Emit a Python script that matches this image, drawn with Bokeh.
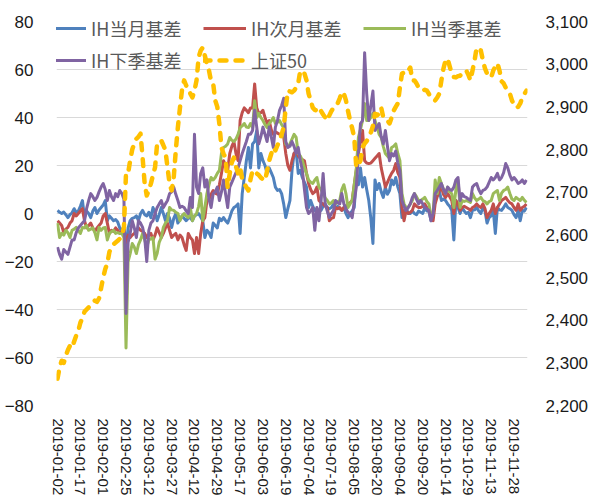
import pandas as pd
from bokeh.plotting import figure
from bokeh.models import (Range1d, LinearAxis, FixedTicker, NumeralTickFormatter,
                          Legend, LegendItem)
from bokeh.embed import file_html
from bokeh.resources import INLINE

# ---------------- data ----------------
holidays = ["2019-02-04", "2019-02-05", "2019-02-06", "2019-02-07", "2019-02-08",
            "2019-04-05", "2019-05-01", "2019-05-02", "2019-05-03", "2019-06-07",
            "2019-09-13", "2019-10-01", "2019-10-02", "2019-10-03", "2019-10-04",
            "2019-10-07"]
dates = [d.strftime("%Y-%m-%d") for d in pd.bdate_range("2019-01-02", "2019-12-06")
         if d.strftime("%Y-%m-%d") not in holidays]

tick_labels = ["2019-01-02", "2019-01-17", "2019-02-01", "2019-02-25", "2019-03-12",
               "2019-03-27", "2019-04-12", "2019-04-29", "2019-05-17", "2019-06-03",
               "2019-06-19", "2019-07-04", "2019-07-19", "2019-08-05", "2019-08-20",
               "2019-09-04", "2019-09-20", "2019-10-14", "2019-10-29", "2019-11-13",
               "2019-11-28"]
left_ticks = [-80, -60, -40, -20, 0, 20, 40, 60, 80]
right_ticks = [2200, 2300, 2400, 2500, 2600, 2700, 2800, 2900, 3000, 3100]

ih_month = [1.3, 0.5, 0, 0.6, -0.5, -1.7, -0.5, 0.3, 2, 0.5,
            1, 3, 5.4, -1.7, 1, 0, -1.7, 1, 2.5, 0,
            1.5, 2.5, 3.5, 5.4, -3, -1, -2, -3, -2.5, -3.5,
            -6, -7.5, -5, -15, -6, -3, -2, -1.7, -1, -3,
            0, 1.3, -0.5, -1, 0.5, -1.7, 2.5, 0.5, -3, -0.5,
            2.5, 0, -3, 0, -2, -5.8, -2, 0, -4, -2.5,
            -1, -2, -3, -2, -1.7, -3, -1, -0.5, 0, -1.5,
            -3, -10, -7, -8, -10, -4, -5, -6, -2, -3,
            -1.7, -3, -4, -1.7, 1, 2.5, 3, 4, -8.3, 8.3,
            15, 22, 27.5, 19, 29, 30, 34.6, 19, 25, 22,
            20, 16.7, 19, 17, 15, 11, 9.6, 10, 8.3, 4,
            -1.7, 2, 5.4, 18, 25, 26, 16.7, 18, 15, 13,
            11, 2.5, 5.4, 3, 1.3, 2, 1, 1.3, 3, 4,
            2.5, 2, 2.5, 4, 2, 3, 2, 1.3, 2.5, 0,
            -1.7, 0, 1, 2.5, 15, 12, 19, 11, 15, 10,
            5.4, -2, -12.5, 14, 10, 12.5, 9, 6.7, 11, 8,
            9.6, 14, 12, 15, 11, 8.3, -1.7, 1, 2.5, 0,
            0, 1, 0, -0.5, 1, 0.5, 0, 2.5, 1, 1,
            -3, 0, 5.4, 8, 9.6, 5.4, 6, 5.4, 4, 3,
            1.3, -11, 5.4, 2.5, 0, 2.5, 1, 0, 0.5, -1.7,
            1.3, 1.5, 2.5, 1, 0, 2.5, 1, -4, -1.7, -1,
            1.3, -8.3, 2.5, 1.5, 1.3, 2.5, 4, 2.5, 2, 1.3,
            -0.5, -1.7, 1.3, -3, 1.3, 1, 2.5]

ih_next = [-3, -4, -5, -8, -6.5, -5.8, -4, -3, 0, -1,
           0, 1, 2, -3, -6, -5, -4, -6, -7.5, -6,
           -5, -4, -1, 0, -4, -8.3, -7, -7.5, -6, -7,
           -8.3, -7.5, -8, -12, -9, -10, -9, -8.3, -7, -6,
           -7, -7.5, -8.3, -10, -9, -8.3, -11, -9, -6, -8,
           -10, -8.3, -6, -4, -7, -10, -9, -8.3, -11, -9,
           -10, -13, -15.4, -8.3, -10, -11, -16.7, -10, -16.7, -8.3,
           -3, -1.7, 5.4, 6, 8, 9.6, 8.5, 8, 12, 16.7,
           22, 20, 18, 25, 28, 30, 25, 22, 38.75, 42,
           44, 43, 42, 44, 44, 54, 44, 41.7, 42, 43,
           40, 37.5, 38.75, 35, 33, 34, 33.5, 33, 32.5, 32,
           25, 20, 18, 22, 25, 26, 24, 23, 22.5, 22,
           16.7, 12.5, 10, 8.3, 9, 11, 5.4, 4.5, 4, 3,
           2.5, -3, -2, -1.7, 2.5, 2, 2.5, 1.3, 2.5, 3,
           4, 4.5, 5.4, 12, 18, 25, 30, 34.6, 22, 21,
           20.8, 21, 22, 23, 24, 25, 19, 15, 11, 13,
           15, 16.7, 18, 20.8, 17, 15, 2.5, -3, 1.3, 0,
           0.5, 1.3, 4, 3, 2.5, 2.5, 3, 4, 2.5, 1.3,
           -1, -3, 4, 7, 9.6, 11, 8, 6.7, 8.3, 7,
           5.4, 0, 5.4, 4, 1.3, 2.5, 3, 2.5, 2, 1.3,
           2.5, 3, 4, 3, 2.5, 4, 2, -1.7, 0, 1.3,
           4, 0, 2.5, 4, 5.4, 6, 6.7, 5.4, 4.5, 4,
           2.5, 1.3, 4, 1.3, 2.5, 3, 4]

ih_quarter = [-4, -10, -8.3, -9, -7, -8, -10, -7, -6.5, -5.8,
              -7, -8.3, -5.8, -6, -5, -7, -6.5, -6, -8, -11,
              -5.8, -7, -6, -5.8, -11, -8.3, -7.5, -7, -8.3, -8,
              -8.3, -8.3, -10, -56, -20, -16.7, -12.5, -14, -16.7, -13,
              -11, -8.3, -11, -14, -11, -10.5, -10, -19, -16.7, -12,
              -10, -5.8, -4, -3, 2.5, 1.5, 1.3, 0.5, 0, -3,
              -1, 0, -1, -1.7, 2.5, -3, -1, 0, 3, 8.3,
              -3, 2.5, 8.3, 12, 15, 14, 15, 16.7, 18, 25,
              27.5, 28, 29, 31.7, 30.5, 30, 31, 33, 35.8, 36.5,
              37.5, 36, 35.8, 37.5, 35.8, 47, 40, 41.7, 40, 38.75,
              37, 35.8, 37.5, 38.5, 40, 37.5, 38, 38.75, 37, 35.8,
              29, 28, 29, 31, 33, 31.7, 25, 24, 22, 19,
              16.7, 14, 13, 12.5, 14, 15, 11, 10, 8.3, 6.5,
              5.4, 4, 4.5, 5.4, 4, 5, 5.4, 10, 12, 8.3,
              2.5, 4, 5.4, 12, 19, 31.7, 35, 38.75, 45.8, 38.75,
              38.75, 40, 41.7, 38.75, 36, 33, 31.7, 28, 25, 24,
              23, 27.5, 28, 29, 25, 22, 8.3, 4, 2.5, 2.5,
              4, 5.4, 8.3, 7, 5.4, 5.4, 6, 6.7, 5, 4,
              -1.7, 0, 14, 8.3, 15, 12.5, 10, 8.3, 11, 9,
              8.3, 2.5, 10, 14, 2.5, 5.4, 5, 5.4, 5, 4.6,
              8.3, 6.5, 5.4, 6, 6.7, 5.4, 5, 4, 5, 5.4,
              8.3, 9, 9.6, 5.4, 8.5, 9.6, 10, 11, 8.3, 6,
              5.4, 6.7, 6, 5.4, 6.7, 5.5, 4.6]

ih_next_quarter = [-14, -17, -19, -15, -16, -17, -14, -11, -11, -8,
                   -6, -5, -4, -3, 2, 5.4, 8.3, 7, 5.4, 6.7,
                   9, 11, 12.5, 10, 5.4, 9.6, 7, 5.4, 8.3, 7,
                   9.6, 8.3, 6, -41.7, -12, -8.3, -3, -6, -10, -3,
                   -4, -5.8, -10, -20, -7, -4, -3, 0, 2.5, 4,
                   5.4, 2.5, 4, 5.4, 8.3, 9, 11, 8, 5.4, 2.5,
                   3, 2.5, 1, 0, 6.7, 2.5, 33, 11, 8.3, 16.7,
                   19, 11, 14, 6, 2.5, 8.3, 9, 11, 5.4, 9,
                   14, 8, 2.5, 11, 13, 15, 17, 19, 22, 25,
                   27.5, 30, 33, 33, 34.6, 43, 36, 29, 32, 36,
                   33, 30, 36, 32, 27.5, 36, 38.75, 43, 45, 48,
                   30, 27.5, 28, 30, 28, 25, 27.5, 22, 18, 10,
                   2.5, 0, 1, 2.5, -7, 2.5, -3, 5, 16.7, 4,
                   1, -1.7, 0, 1.3, 5.4, 4.5, 4, 8.3, 4, 2,
                   0.5, 0, -1.7, 5, 11, 25, 37.5, 38.75, 67, 50,
                   38.75, 45, 51, 34.6, 36, 37.5, 32, 29, 34.6, 28,
                   22, 25, 24, 26, 21, 18, 5.4, 3, 1.3, 2.5,
                   4, 6.7, 8.3, 6, 4, 5.4, 4, 2.5, 2, 1.3,
                   -3, 0, 8.3, 9.6, 11, 12.5, 10, 8.3, 11, 10,
                   9.6, 11, 14, 15, 5.4, 8.3, 7, 6.7, 6, 5.4,
                   11, 12, 12.5, 10, 8.3, 9.6, 10, 11, 13, 15,
                   14, 15, 16.7, 14, 15, 17, 20.8, 19, 16, 14,
                   15, 14, 12.5, 13, 14, 12.5, 14]

sse50 = [2263, 2290, 2305, 2300, 2317, 2330, 2340, 2335, 2350, 2364,
         2375, 2394, 2405, 2420, 2425, 2430, 2434, 2440, 2446, 2443,
         2451, 2475, 2500, 2520, 2533, 2560, 2570, 2578, 2582, 2586,
         2591, 2600, 2617, 2745, 2744, 2774, 2800, 2814, 2825, 2830,
         2837, 2781, 2720, 2692, 2705, 2720, 2740, 2758, 2814, 2818,
         2821, 2810, 2798, 2758, 2720, 2704, 2734, 2798, 2852, 2898,
         2940, 2962, 2950, 2945, 2931, 2922, 2938, 2962, 3016, 3032,
         3039, 3020, 3000, 2985, 2960, 2955, 2915, 2900, 2860, 2805,
         2790, 2781, 2711, 2744, 2770, 2781, 2760, 2744, 2758, 2730,
         2720, 2712, 2704, 2730, 2751, 2750, 2744, 2740, 2734, 2730,
         2727, 2750, 2774, 2790, 2805, 2798, 2810, 2820, 2835, 2852,
         2898, 2938, 2936, 2934, 2938, 2945, 2955, 2985, 2980, 2978,
         2962, 2931, 2915, 2898, 2893, 2891, 2898, 2890, 2882, 2875,
         2868, 2880, 2890, 2898, 2904, 2908, 2920, 2935, 2931, 2915,
         2890, 2868, 2850, 2828, 2758, 2765, 2774, 2805, 2814, 2820,
         2828, 2840, 2855, 2884, 2880, 2884, 2898, 2875, 2870, 2868,
         2861, 2875, 2891, 2900, 2908, 2945, 2978, 2980, 2978, 2985,
         2992, 2962, 2962, 2955, 2945, 2940, 2938, 2940, 2938, 2930,
         2922, 2918, 2915, 2922, 2931, 2962, 2990, 3009, 3013, 2995,
         2978, 2970, 2969, 2972, 2973, 2978, 2980, 2985, 2975, 2962,
         2985, 3009, 3039, 3035, 3032, 3009, 2990, 2978, 2972, 2969,
         2985, 2995, 3002, 2985, 2960, 2955, 2945, 2938, 2931, 2915,
         2905, 2898, 2900, 2908, 2922, 2930, 2938]

series_names = ["IH当月基差", "IH次月基差", "IH当季基差", "IH下季基差", "上证50"]
colors = ["#4F81BD", "#C0504D", "#9BBB59", "#8064A2", "#FFC000"]

# ---------------- figure ----------------
x = list(range(len(dates)))

p = figure(width=591, height=499, output_backend="svg", toolbar_location=None,
           x_range=Range1d(-0.5, len(dates) - 0.5),
           y_range=Range1d(left_ticks[0], left_ticks[-1]),
           min_border_left=56, min_border_right=64, min_border_top=21, min_border_bottom=94)
p.extra_y_ranges = {"sse": Range1d(right_ticks[0], right_ticks[-1])}
p.outline_line_color = None
p.background_fill_color = "white"
p.border_fill_color = "white"

renderers = []
for vals, col in zip([ih_month, ih_next, ih_quarter, ih_next_quarter], colors[:4]):
    r = p.line(x, vals, line_color=col, line_width=3, line_join="round")
    renderers.append(r)
r5 = p.line(x, sse50, y_range_name="sse", line_color=colors[4], line_width=4.5,
            line_dash="7 9", line_cap="round", line_join="round")
renderers.append(r5)

# grid
p.xgrid.visible = False
p.ygrid.ticker = FixedTicker(ticks=left_ticks)
p.ygrid.grid_line_color = "#D9D9D9"
p.ygrid.grid_line_width = 1


def style_axis(ax, standoff, size):
    ax.axis_line_color = None
    ax.major_tick_line_color = None
    ax.minor_tick_line_color = None
    ax.major_tick_out = 0
    ax.major_tick_in = 0
    ax.minor_tick_out = 0
    ax.minor_tick_in = 0
    ax.major_label_standoff = standoff
    ax.major_label_text_font = "Liberation Sans"
    ax.major_label_text_font_size = size
    ax.major_label_text_color = "#1a1a1a"


# left axis
la = p.yaxis[0]
la.ticker = FixedTicker(ticks=left_ticks)
style_axis(la, 23, "17px")

# right axis
ra = LinearAxis(y_range_name="sse", ticker=FixedTicker(ticks=right_ticks),
                formatter=NumeralTickFormatter(format="0,0"))
style_axis(ra, 18, "17px")
p.add_layout(ra, "right")

# bottom axis
xa = p.xaxis[0]
tick_pos = [dates.index(t) for t in tick_labels]
xa.ticker = FixedTicker(ticks=tick_pos)
xa.major_label_overrides = {pos: lab for pos, lab in zip(tick_pos, tick_labels)}
xa.major_label_orientation = "vertical"
style_axis(xa, 13, "15px")

# legend
items = [LegendItem(label=n, renderers=[r]) for n, r in zip(series_names, renderers)]
legend = Legend(items=items, location=(-13, 332), orientation="horizontal", ncols=3,
                glyph_width=43, glyph_height=20, label_height=20, label_width=106,
                label_standoff=5, spacing=6, padding=0, margin=0,
                border_line_color=None, background_fill_alpha=0,
                label_text_font="Noto Sans CJK SC", label_text_font_size="18px",
                label_text_color="#595959")
p.add_layout(legend)

open("out.html", "w").write(file_html(p, INLINE))
